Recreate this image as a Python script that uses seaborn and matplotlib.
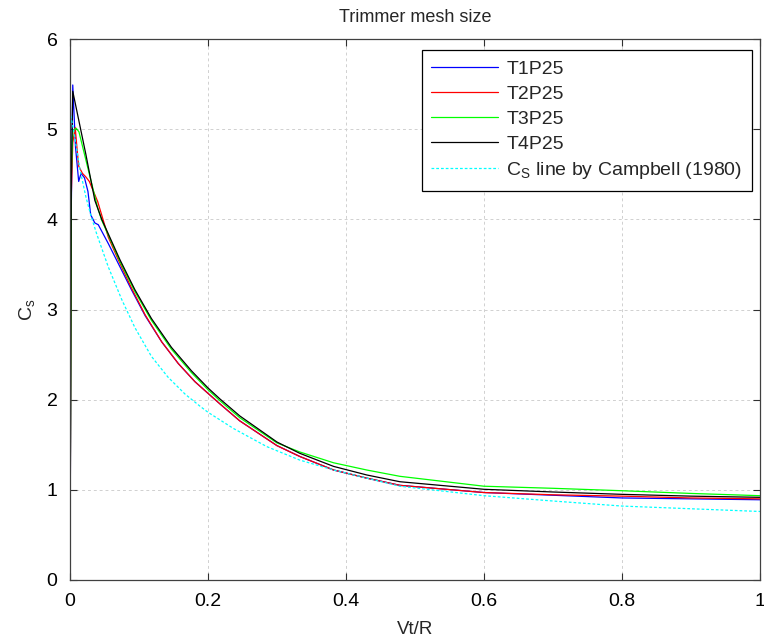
import matplotlib
matplotlib.use("Agg")
import matplotlib.pyplot as plt
import seaborn as sns
import pandas as pd

# ---- data ----
x_t1 = [0, 0.002, 0.004, 0.008, 0.0126, 0.016, 0.021, 0.026, 0.030, 0.036, 0.041, 0.0556, 0.07, 0.089, 0.109,
        0.133, 0.157, 0.181, 0.2, 0.217, 0.246, 0.3, 0.333, 0.382, 0.43, 0.478, 0.6, 0.7, 0.8, 0.9, 1.0]
y_t1 = [0, 4.2, 5.49, 4.8, 4.42, 4.51, 4.46, 4.31, 4.05, 3.96, 3.94, 3.73, 3.51, 3.22, 2.93,
        2.64, 2.40, 2.20, 2.07, 1.955, 1.765, 1.49, 1.37, 1.22, 1.13, 1.05, 0.97, 0.94, 0.91, 0.90, 0.89]

x_t2 = [0, 0.002, 0.004, 0.0075, 0.010, 0.0126, 0.018, 0.023, 0.028, 0.040, 0.0556, 0.07, 0.089, 0.109,
        0.133, 0.157, 0.181, 0.2, 0.217, 0.246, 0.3, 0.333, 0.382, 0.43, 0.478, 0.6, 0.7, 0.8, 0.9, 1.0]
y_t2 = [0, 4.3, 4.85, 5.02, 4.8, 4.59, 4.51, 4.47, 4.42, 4.20, 3.80, 3.55, 3.24, 2.94,
        2.64, 2.40, 2.20, 2.07, 1.955, 1.765, 1.49, 1.37, 1.22, 1.13, 1.05, 0.97, 0.945, 0.93, 0.91, 0.90]

x_t3 = [0, 0.002, 0.004, 0.009, 0.013, 0.040, 0.046, 0.0725, 0.094, 0.118, 0.147, 0.176, 0.2, 0.217, 0.246,
        0.3, 0.333, 0.382, 0.43, 0.478, 0.6, 0.7, 0.8, 0.9, 1.0]
y_t3 = [0, 4.5, 4.98, 5.01, 4.97, 4.13, 3.99, 3.53, 3.20, 2.88, 2.56, 2.30, 2.11, 1.99, 1.80,
        1.52, 1.42, 1.30, 1.22, 1.15, 1.04, 1.017, 0.99, 0.96, 0.935]

x_t4 = [0, 0.001, 0.002, 0.004, 0.023, 0.036, 0.046, 0.0725, 0.094, 0.118, 0.147, 0.176, 0.2, 0.217, 0.246,
        0.3, 0.333, 0.382, 0.43, 0.478, 0.6, 0.7, 0.8, 0.9, 1.0]
y_t4 = [0, 2.5, 4.5, 5.42, 4.72, 4.21, 4.0, 3.55, 3.22, 2.90, 2.58, 2.32, 2.13, 2.01, 1.82,
        1.53, 1.405, 1.26, 1.165, 1.09, 1.006, 0.976, 0.95, 0.93, 0.917]

x_camp = [0.001, 0.005, 0.0145, 0.023, 0.030, 0.0386, 0.0556, 0.075, 0.094, 0.118, 0.142, 0.167, 0.188, 0.2,
          0.237, 0.285, 0.333, 0.382, 0.43, 0.478, 0.6, 0.7, 0.8, 0.9, 1.0]
y_camp = [5.15, 5.0, 4.55, 4.25, 4.05, 3.84, 3.47, 3.11, 2.80, 2.48, 2.25, 2.06, 1.93, 1.86,
          1.68, 1.48, 1.33, 1.22, 1.13, 1.04, 0.935, 0.876, 0.82, 0.79, 0.76]

labels = ["T1P25", "T2P25", "T3P25", "T4P25", r"C$_\mathregular{S}$ line by Campbell (1980)"]
colors = ["#0000ff", "#ff0000", "#00ff00", "#000000", "#00ffff"]

x_ticks = [0, 0.2, 0.4, 0.6, 0.8, 1]
x_tick_labels = ["0", "0.2", "0.4", "0.6", "0.8", "1"]
y_ticks = [0, 1, 2, 3, 4, 5, 6]

sns.set_theme(style="white")
plt.rcParams["font.family"] = ["Liberation Sans", "DejaVu Sans"]
plt.rcParams["mathtext.fontset"] = "custom"
plt.rcParams["mathtext.rm"] = "Liberation Sans"

fig = plt.figure(figsize=(7.64, 6.41), dpi=100)
ax = fig.add_axes([70 / 764, (641 - 580) / 641, 690 / 764, 541 / 641])

series = [(x_t1, y_t1), (x_t2, y_t2), (x_t3, y_t3), (x_t4, y_t4), (x_camp, y_camp)]
for i, ((xs, ys), lab, col) in enumerate(zip(series, labels, colors)):
    df = pd.DataFrame({"x": xs, "y": ys})
    kw = {}
    if i == 4:
        kw = dict(dashes=False, linestyle=(0, (2.2, 1.6)))
    sns.lineplot(data=df, x="x", y="y", ax=ax, color=col, label=lab,
                 estimator=None, sort=False, linewidth=0.9, **kw)

ax.set_xlim(0, 1)
ax.set_ylim(0, 6)
ax.set_xticks(x_ticks)
ax.set_xticklabels(x_tick_labels)
ax.set_yticks(y_ticks)
ax.grid(True, color="#d0d0d0", linestyle=(0, (3, 3)), linewidth=0.7)
ax.set_axisbelow(True)
for s in ax.spines.values():
    s.set_color("#404040")
    s.set_linewidth(0.9)
ax.tick_params(direction="in", length=5, width=0.8, color="#303030",
               top=True, right=True, bottom=True, left=True,
               labelsize=14, pad=9, colors="#303030", labelcolor="black")

ax.set_xlabel("Vt/R", fontsize=13.5, labelpad=8)
ax.set_ylabel(r"C$_\mathregular{s}$", fontsize=14, labelpad=6)
ax.set_title("Trimmer mesh size", fontsize=13, pad=12)

leg = ax.legend(loc="upper right", bbox_to_anchor=(0.9885, 0.979), fontsize=14,
                handlelength=3.4, handletextpad=0.45, labelspacing=0.38,
                borderpad=0.5, borderaxespad=0, frameon=True, fancybox=False,
                framealpha=1, edgecolor="black")
leg.get_frame().set_linewidth(0.9)

fig.savefig("out.png", dpi=100)
